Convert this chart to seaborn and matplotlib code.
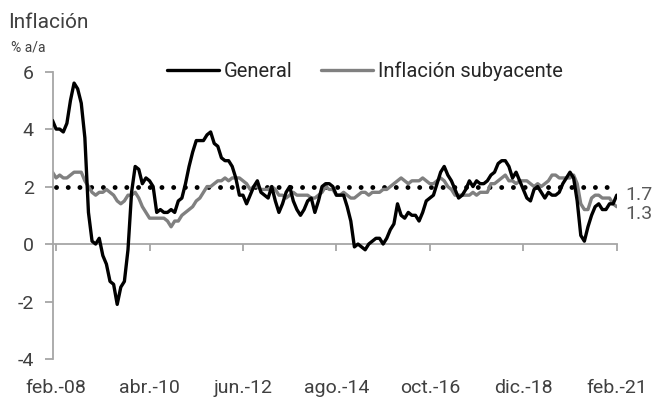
import matplotlib
matplotlib.use("Agg")
import matplotlib.pyplot as plt
import seaborn as sns
import pandas as pd

# monthly data, ene.-08 .. feb.-21 (% a/a)
general = [
    4.3, 4.0, 4.0, 3.9, 4.2, 5.0, 5.6, 5.4, 4.9, 3.7, 1.1, 0.1,
    0.0, 0.2, -0.4, -0.7, -1.3, -1.4, -2.1, -1.5, -1.3, -0.2, 1.8, 2.7,
    2.6, 2.1, 2.3, 2.2, 2.0, 1.1, 1.2, 1.1, 1.1, 1.2, 1.1, 1.5,
    1.6, 2.1, 2.7, 3.2, 3.6, 3.6, 3.6, 3.8, 3.9, 3.5, 3.4, 3.0,
    2.9, 2.9, 2.7, 2.3, 1.7, 1.7, 1.4, 1.7, 2.0, 2.2, 1.8, 1.7,
    1.6, 2.0, 1.5, 1.1, 1.4, 1.8, 2.0, 1.5, 1.2, 1.0, 1.2, 1.5,
    1.6, 1.1, 1.5, 2.0, 2.1, 2.1, 2.0, 1.7, 1.7, 1.7, 1.3, 0.8,
    -0.1, 0.0, -0.1, -0.2, 0.0, 0.1, 0.2, 0.2, 0.0, 0.2, 0.5, 0.7,
    1.4, 1.0, 0.9, 1.1, 1.0, 1.0, 0.8, 1.1, 1.5, 1.6, 1.7, 2.1,
    2.5, 2.7, 2.4, 2.2, 1.9, 1.6, 1.7, 1.9, 2.2, 2.0, 2.2, 2.1,
    2.1, 2.2, 2.4, 2.5, 2.8, 2.9, 2.9, 2.7, 2.3, 2.5, 2.2, 1.9,
    1.6, 1.5, 1.9, 2.0, 1.8, 1.6, 1.8, 1.7, 1.7, 1.8, 2.1, 2.3,
    2.5, 2.3, 1.5, 0.3, 0.1, 0.6, 1.0, 1.3, 1.4, 1.2, 1.2, 1.4,
    1.4, 1.7,
]
subyacente = [
    2.5, 2.3, 2.4, 2.3, 2.3, 2.4, 2.5, 2.5, 2.5, 2.2, 2.0, 1.8,
    1.7, 1.8, 1.8, 1.9, 1.8, 1.7, 1.5, 1.4, 1.5, 1.7, 1.7, 1.8,
    1.6, 1.3, 1.1, 0.9, 0.9, 0.9, 0.9, 0.9, 0.8, 0.6, 0.8, 0.8,
    1.0, 1.1, 1.2, 1.3, 1.5, 1.6, 1.8, 2.0, 2.0, 2.1, 2.2, 2.2,
    2.3, 2.2, 2.3, 2.3, 2.3, 2.2, 2.1, 1.9, 2.0, 2.0, 1.9, 1.9,
    1.9, 2.0, 1.9, 1.7, 1.7, 1.6, 1.7, 1.8, 1.7, 1.7, 1.7, 1.7,
    1.6, 1.6, 1.7, 1.8, 2.0, 1.9, 1.9, 1.7, 1.7, 1.8, 1.7, 1.6,
    1.6, 1.7, 1.8, 1.8, 1.7, 1.8, 1.8, 1.8, 1.9, 1.9, 2.0, 2.1,
    2.2, 2.3, 2.2, 2.1, 2.2, 2.2, 2.2, 2.3, 2.2, 2.1, 2.1, 2.2,
    2.3, 2.2, 2.0, 1.9, 1.7, 1.7, 1.7, 1.7, 1.7, 1.8, 1.7, 1.8,
    1.8, 1.8, 2.1, 2.1, 2.2, 2.3, 2.4, 2.2, 2.2, 2.1, 2.2, 2.2,
    2.2, 2.1, 2.0, 2.1, 2.0, 2.1, 2.2, 2.4, 2.4, 2.3, 2.3, 2.3,
    2.3, 2.4, 2.1, 1.4, 1.2, 1.2, 1.6, 1.7, 1.7, 1.6, 1.6, 1.6,
    1.4, 1.3,
]
objetivo = 2.0
tick_dates = ["2008-02", "2010-04", "2012-06", "2014-08", "2016-10", "2018-12", "2021-02"]
tick_labels = ["feb.-08", "abr.-10", "jun.-12", "ago.-14", "oct.-16", "dic.-18", "feb.-21"]
y_ticks = [6, 4, 2, 0, -2, -4]

dates = pd.date_range("2008-01-01", "2021-02-01", freq="MS")
df = pd.DataFrame({"mes": range(len(dates)), "fecha": dates.strftime("%Y-%m"),
                   "General": general, "Inflación subyacente": subyacente})

sns.set_style("white")
plt.rcParams["font.family"] = ["Roboto", "DejaVu Sans"]
txt = "#404040"
axis_col = "#a6a6a6"

fig = plt.figure(figsize=(6.54, 4.0), dpi=100)
ax = fig.add_axes([0.0803, 0.1025, 0.8627, 0.7185])

ax.hlines(objetivo, df["mes"].iloc[1], df["mes"].iloc[-1], colors="black",
          linestyles=(0, (0.01, 2.4)), linewidth=3.5, capstyle="round", zorder=1)
sns.lineplot(data=df, x="mes", y="Inflación subyacente", ax=ax, color="#808080",
             linewidth=2.4, label="Inflación subyacente", zorder=2)
sns.lineplot(data=df, x="mes", y="General", ax=ax, color="black",
             linewidth=2.4, label="General", zorder=3)

ax.set_xlim(0, len(df) - 1)
ax.set_ylim(-4, 6)
ax.set_yticks(y_ticks)
ax.set_yticklabels([str(v) for v in y_ticks])
ax.set_xlabel("")
ax.set_ylabel("")

pos = [df.index[df["fecha"] == d][0] for d in tick_dates]
ax.set_xticks(pos)
ax.set_xticklabels(tick_labels)

for s in ["top", "right"]:
    ax.spines[s].set_visible(False)
ax.spines["left"].set_color(axis_col)
ax.spines["left"].set_linewidth(1.3)
ax.spines["bottom"].set_color(axis_col)
ax.spines["bottom"].set_linewidth(1.3)
ax.spines["bottom"].set_position(("data", 0))
ax.tick_params(axis="y", left=True, direction="out", length=5.5, width=1.3,
               color=axis_col, pad=8, labelsize=14, labelcolor=txt)
ax.tick_params(axis="x", bottom=True, direction="out", length=5, width=1.3,
               color=axis_col, pad=92, labelsize=14, labelcolor=txt)

handles, labels = ax.get_legend_handles_labels()
order = [labels.index("General"), labels.index("Inflación subyacente")]
ax.get_legend().remove()
leg = fig.legend([handles[i] for i in order], [labels[i] for i in order],
                 loc="center", bbox_to_anchor=(0.558, 0.822), ncol=2, frameon=False,
                 fontsize=14.5, handlelength=2.6, handletextpad=0.25, columnspacing=1.4)
for t in leg.get_texts():
    t.set_color("#262626")

last = df.iloc[-1]
ax.annotate(f"{last['General']:.1f}", (last["mes"], last["General"]), xytext=(6, 0),
            textcoords="offset points", fontsize=14, color="#595959", va="center")
ax.annotate(f"{last['Inflación subyacente']:.1f}", (last["mes"], last["Inflación subyacente"]),
            xytext=(6, -5), textcoords="offset points", fontsize=14, color="#595959", va="center")

fig.text(0.012, 0.945, "Inflación", fontsize=15, color=txt, va="center")
fig.text(0.017, 0.88, "% a/a", fontsize=10, color=txt, va="center")

fig.savefig("out.png", dpi=100)
